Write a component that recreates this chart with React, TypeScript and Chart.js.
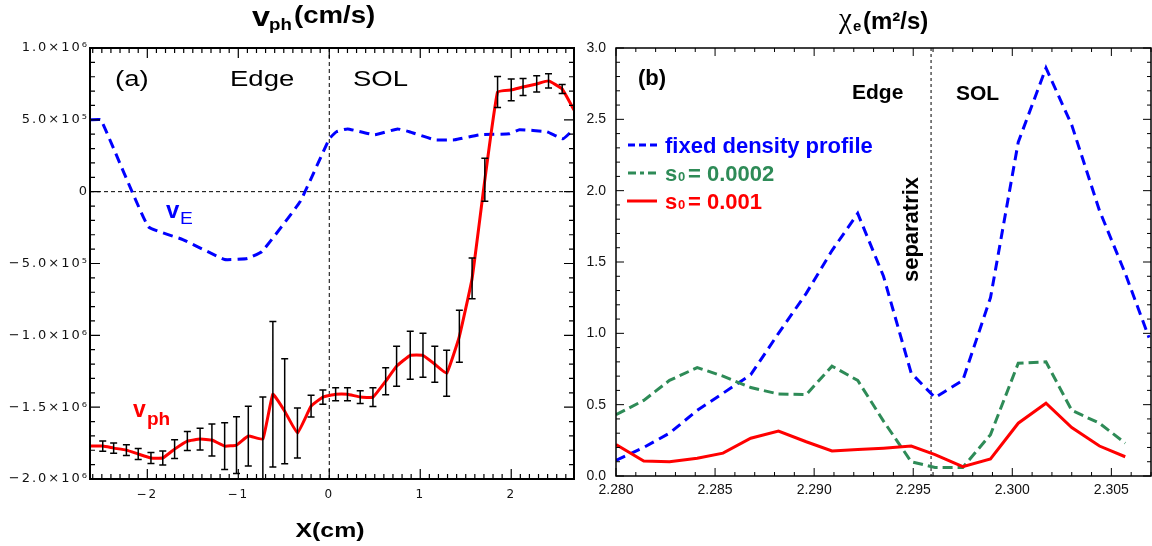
import React, { useEffect, useRef } from 'react';
import { Chart, registerables } from 'chart.js';
Chart.register(...registerables);

const FONT = '"Liberation Sans", Arial, Helvetica, sans-serif';

// ---------------- Panel (a): v_ph and v_E vs X(cm) ----------------
const vEX = [-2.63, -2.51, -1.99, -1.61, -1.15, -0.90, -0.74, -0.32, 0.0, 0.08, 0.20, 0.50, 0.75, 0.88, 1.16, 1.38, 1.65, 1.98, 2.09, 2.39, 2.57, 2.69];
const vEY = [5.0e5, 5.0e5, -2.43e5, -3.33e5, -4.72e5, -4.65e5, -4.17e5, -0.69e5, 3.68e5, 4.17e5, 4.37e5, 3.96e5, 4.37e5, 4.17e5, 3.61e5, 3.61e5, 3.96e5, 4.03e5, 4.31e5, 4.17e5, 3.68e5, 4.37e5];

const vphX = [-2.63, -2.49, -2.37, -2.23, -2.10, -1.96, -1.83, -1.70, -1.56, -1.42, -1.29, -1.15, -1.02, -0.89, -0.73, -0.62, -0.49, -0.35, -0.20, -0.07, 0.07, 0.20, 0.34, 0.48, 0.62, 0.74, 0.89, 1.03, 1.16, 1.29, 1.43, 1.57, 1.71, 1.85, 2.00, 2.13, 2.28, 2.41, 2.56, 2.69];
const vphY = [-1.771e6, -1.771e6, -1.785e6, -1.799e6, -1.826e6, -1.854e6, -1.854e6, -1.792e6, -1.736e6, -1.722e6, -1.729e6, -1.771e6, -1.764e6, -1.701e6, -1.722e6, -1.410e6, -1.528e6, -1.680e6, -1.493e6, -1.430e6, -1.410e6, -1.410e6, -1.430e6, -1.430e6, -1.319e6, -1.215e6, -1.139e6, -1.139e6, -1.201e6, -1.264e6, -1.007e6, -0.604e6, 0.083e6, 0.694e6, 0.708e6, 0.729e6, 0.750e6, 0.771e6, 0.715e6, 0.569e6];
const vphErr = [null, 3.5e4, 3.5e4, 3.8e4, 3.8e4, 3.8e4, 4.9e4, 6.6e4, 6.6e4, 7.6e4, 1.11e5, 1.63e5, 1.98e5, 2.08e5, 2.92e5, 5.07e5, 3.65e5, 1.74e5, 7.6e4, 4.9e4, 4.5e4, 4.5e4, 4.5e4, 6.6e4, 9.4e4, 1.39e5, 1.67e5, 1.53e5, 1.25e5, 1.60e5, 1.81e5, 1.42e5, 1.49e5, 1.08e5, 7.6e4, 5.9e4, 5.6e4, 4.9e4, 3.1e4, null];

const xTickValuesA = [-2, -1, 0, 1, 2];
const xTickLabelsA = ['−2', '−1', '0', '1', '2'];
const yTickValuesA = [1e6, 5e5, 0, -5e5, -1e6, -1.5e6, -2e6];
const yTickLabelsA = ['1.0×10⁶', '5.0×10⁵', '0', '−5.0×10⁵', '−1.0×10⁶', '−1.5×10⁶', '−2.0×10⁶'];

// ---------------- Panel (b): chi_e vs X(m) ----------------
const chiX = [2.2800, 2.2814, 2.2827, 2.2841, 2.2854, 2.2868, 2.2882, 2.2896, 2.2909, 2.2922, 2.2935, 2.2949, 2.2961, 2.2975, 2.2989, 2.3003, 2.3017, 2.3030, 2.3044, 2.3057, 2.3069];
const chiFixed = [0.11, 0.20, 0.30, 0.46, 0.58, 0.71, 1.00, 1.28, 1.58, 1.84, 1.40, 0.72, 0.55, 0.67, 1.25, 2.34, 2.86, 2.46, 1.86, 1.42, 0.97];
const chiS0002 = [0.43, 0.53, 0.67, 0.76, 0.70, 0.62, 0.575, 0.57, 0.77, 0.67, 0.385, 0.10, 0.06, 0.06, 0.29, 0.79, 0.80, 0.46, 0.37, 0.23];
const chiS001 = [0.22, 0.105, 0.10, 0.125, 0.16, 0.265, 0.315, 0.24, 0.175, 0.185, 0.195, 0.21, 0.15, 0.065, 0.12, 0.37, 0.51, 0.34, 0.21, 0.135];
const separatrixX = 2.2959;

const xTickValuesB = [2.280, 2.285, 2.290, 2.295, 2.300, 2.305];
const xTickLabelsB = ['2.280', '2.285', '2.290', '2.295', '2.300', '2.305'];
const yTickValuesB = [0, 0.5, 1.0, 1.5, 2.0, 2.5, 3.0];
const yTickLabelsB = ['0.0', '0.5', '1.0', '1.5', '2.0', '2.5', '3.0'];

const legendB = ['fixed density profile', '0.0002', '0.001'];

// ---------------- helpers ----------------
const pts = (xs: number[], ys: number[]) => ys.map((y, i) => ({ x: xs[i], y }));

function labelFor(values: number[], labels: string[], v: number, tol: number) {
  const i = values.findIndex((t) => Math.abs(t - v) < tol);
  return i >= 0 ? labels[i] : '';
}

function drawText(ctx: CanvasRenderingContext2D, s: string, x: number, y: number, font: string, color: string, sx = 1, align: CanvasTextAlign = 'left') {
  ctx.save();
  (ctx as any).letterSpacing = '0px';
  ctx.font = font;
  ctx.fillStyle = color;
  ctx.textAlign = align;
  ctx.textBaseline = 'alphabetic';
  ctx.translate(x, y);
  ctx.scale(sx, 1);
  ctx.fillText(s, 0, 0);
  ctx.restore();
}

type FrameOpts = { xMinor: number; xRatio: number; yMinor: number; yRatio: number; majorLen: number; minorLen: number; boxWidth: number; tickWidth: number };

function drawFrame(chart: any, o: FrameOpts) {
  const { ctx, chartArea: a, scales } = chart;
  const x = scales.x, y = scales.y;
  ctx.save();
  ctx.setLineDash([]);
  ctx.strokeStyle = '#000';
  ctx.lineWidth = o.tickWidth;
  ctx.beginPath();
  const i0 = Math.ceil(x.min / o.xMinor - 1e-6), i1 = Math.floor(x.max / o.xMinor + 1e-6);
  for (let i = i0; i <= i1; i++) {
    const len = i % o.xRatio === 0 ? o.majorLen : o.minorLen;
    const px = x.getPixelForValue(i * o.xMinor);
    ctx.moveTo(px, a.bottom); ctx.lineTo(px, a.bottom - len);
    ctx.moveTo(px, a.top); ctx.lineTo(px, a.top + len);
  }
  const j0 = Math.ceil(y.min / o.yMinor - 1e-6), j1 = Math.floor(y.max / o.yMinor + 1e-6);
  for (let j = j0; j <= j1; j++) {
    const len = j % o.yRatio === 0 ? o.majorLen : o.minorLen;
    const py = y.getPixelForValue(j * o.yMinor);
    ctx.moveTo(a.left, py); ctx.lineTo(a.left + len, py);
    ctx.moveTo(a.right, py); ctx.lineTo(a.right - len, py);
  }
  ctx.stroke();
  ctx.lineWidth = o.boxWidth;
  ctx.strokeRect(a.left, a.top, a.right - a.left, a.bottom - a.top);
  ctx.restore();
}

// ---------------- plugins ----------------
const panelAPlugin = {
  id: 'panelA',
  beforeDraw(chart: any) {
    (chart.ctx as any).letterSpacing = '2px';
  },
  beforeDatasetsDraw(chart: any) {
    const { ctx, chartArea: a, scales } = chart;
    const x0 = scales.x.getPixelForValue(0);
    const y0 = scales.y.getPixelForValue(0);
    ctx.save();
    ctx.strokeStyle = '#000';
    ctx.lineWidth = 1;
    ctx.setLineDash([4, 3]);
    ctx.beginPath();
    ctx.moveTo(a.left, y0); ctx.lineTo(a.right, y0);
    ctx.moveTo(x0, a.top); ctx.lineTo(x0, a.bottom);
    ctx.stroke();
    ctx.restore();
  },
  afterDatasetsDraw(chart: any) {
    const { ctx, chartArea: a, scales } = chart;
    ctx.save();
    ctx.beginPath();
    ctx.rect(a.left, a.top, a.right - a.left, a.bottom - a.top);
    ctx.clip();
    ctx.strokeStyle = '#000';
    ctx.lineWidth = 1.5;
    ctx.setLineDash([]);
    ctx.beginPath();
    vphErr.forEach((e, i) => {
      if (e == null) return;
      const px = scales.x.getPixelForValue(vphX[i]);
      const t = scales.y.getPixelForValue(vphY[i] + e);
      const b = scales.y.getPixelForValue(vphY[i] - e);
      ctx.moveTo(px, t); ctx.lineTo(px, b);
      ctx.moveTo(px - 3.5, t); ctx.lineTo(px + 3.5, t);
      ctx.moveTo(px - 3.5, b); ctx.lineTo(px + 3.5, b);
    });
    ctx.stroke();
    ctx.restore();
    drawFrame(chart, { xMinor: 0.1, xRatio: 10, yMinor: 1e5, yRatio: 5, majorLen: 10, minorLen: 5, boxWidth: 2, tickWidth: 1.2 });
  },
  afterDraw(chart: any) {
    const ctx = chart.ctx as CanvasRenderingContext2D;
    // title
    drawText(ctx, 'v', 252, 26, `bold 27px ${FONT}`, '#000', 1.2);
    drawText(ctx, 'ph', 269, 30, `bold 17px ${FONT}`, '#000', 1.1);
    drawText(ctx, '(cm/s)', 294, 23, `bold 23px ${FONT}`, '#000', 1.2);
    // annotations
    drawText(ctx, '(a)', 115, 86, `22px ${FONT}`, '#000', 1.25);
    drawText(ctx, 'Edge', 230, 86, `22px ${FONT}`, '#000', 1.25);
    drawText(ctx, 'SOL', 353, 86, `22px ${FONT}`, '#000', 1.25);
    drawText(ctx, 'v', 166, 218, `bold 24px ${FONT}`, '#0000ff');
    drawText(ctx, 'E', 180, 224, `16px ${FONT}`, '#0000ff', 1.2);
    drawText(ctx, 'v', 133, 417, `bold 23px ${FONT}`, '#ff0000');
    drawText(ctx, 'ph', 147, 425, `bold 19px ${FONT}`, '#ff0000');
    // axis title
    drawText(ctx, 'X(cm)', 330, 537, `bold 20px ${FONT}`, '#000', 1.24, 'center');
    (ctx as any).letterSpacing = '0px';
  },
};

const OFF = 580; // left edge of panel (b) canvas on the page
const panelBPlugin = {
  id: 'panelB',
  beforeDatasetsDraw(chart: any) {
    const { ctx, chartArea: a, scales } = chart;
    const sx = scales.x.getPixelForValue(separatrixX);
    ctx.save();
    ctx.strokeStyle = '#000';
    ctx.lineWidth = 1;
    ctx.setLineDash([3, 3]);
    ctx.beginPath();
    ctx.moveTo(sx, a.top); ctx.lineTo(sx, a.bottom);
    ctx.stroke();
    ctx.restore();
  },
  afterDatasetsDraw(chart: any) {
    drawFrame(chart, { xMinor: 0.001, xRatio: 5, yMinor: 0.1, yRatio: 5, majorLen: 8, minorLen: 4, boxWidth: 1.5, tickWidth: 1 });
  },
  afterDraw(chart: any) {
    const ctx = chart.ctx as CanvasRenderingContext2D;
    // title
    drawText(ctx, 'χ', 839 - OFF, 28, `29px "Liberation Serif", serif`, '#000');
    drawText(ctx, 'e', 853 - OFF, 31, `bold 15px ${FONT}`, '#000');
    drawText(ctx, '(m²/s)', 863 - OFF, 29, `bold 24px ${FONT}`, '#000');
    // annotations
    drawText(ctx, '(b)', 638 - OFF, 85, `bold 22px ${FONT}`, '#000');
    drawText(ctx, 'Edge', 852 - OFF, 99, `bold 21px ${FONT}`, '#000');
    drawText(ctx, 'SOL', 956 - OFF, 100, `bold 21px ${FONT}`, '#000');
    ctx.save();
    ctx.translate(918 - OFF, 229.5);
    ctx.rotate(-Math.PI / 2);
    drawText(ctx, 'separatrix', 0, 0, `bold 22px ${FONT}`, '#000', 1, 'center');
    ctx.restore();
    // legend
    const lx0 = 628 - OFF, lx1 = 660 - OFF, tx = 665 - OFF;
    ctx.save();
    ctx.lineWidth = 3;
    ctx.strokeStyle = '#0000ff';
    ctx.setLineDash([7, 4]);
    ctx.beginPath(); ctx.moveTo(lx0, 145); ctx.lineTo(lx1, 145); ctx.stroke();
    ctx.strokeStyle = '#2e8b57';
    ctx.setLineDash([8, 4, 4, 4]);
    ctx.beginPath(); ctx.moveTo(lx0, 173); ctx.lineTo(lx1, 173); ctx.stroke();
    ctx.strokeStyle = '#ff0000';
    ctx.setLineDash([]);
    ctx.beginPath(); ctx.moveTo(lx0 - 1, 201); ctx.lineTo(lx1 - 3, 201); ctx.stroke();
    ctx.restore();
    drawText(ctx, legendB[0], tx, 153, `bold 22px ${FONT}`, '#0000ff');
    drawText(ctx, 's', tx, 181, `bold 22px ${FONT}`, '#2e8b57');
    drawText(ctx, '0', tx + 13, 181, `bold 13px ${FONT}`, '#2e8b57');
    drawText(ctx, '= ' + legendB[1], tx + 23, 181, `bold 22px ${FONT}`, '#2e8b57');
    drawText(ctx, 's', tx, 209, `bold 22px ${FONT}`, '#ff0000');
    drawText(ctx, '0', tx + 13, 209, `bold 13px ${FONT}`, '#ff0000');
    drawText(ctx, '= ' + legendB[2], tx + 23, 209, `bold 22px ${FONT}`, '#ff0000');
  },
};

// ---------------- components ----------------
function PanelA() {
  const ref = useRef<HTMLCanvasElement>(null);
  useEffect(() => {
    if (!ref.current) return;
    const chart = new Chart(ref.current, {
      type: 'line',
      data: {
        datasets: [
          { data: pts(vphX, vphY), borderColor: '#ff0000', borderWidth: 3, pointRadius: 0, tension: 0.1, fill: false },
          { data: pts(vEX, vEY), borderColor: '#0000ff', borderWidth: 3, borderDash: [10, 6], pointRadius: 0, tension: 0.1, fill: false },
        ],
      },
      options: {
        responsive: false,
        animation: false,
        devicePixelRatio: 1,
        layout: { padding: { left: 0, right: 6, top: 48, bottom: 0 } },
        plugins: { legend: { display: false }, tooltip: { enabled: false }, title: { display: false } },
        scales: {
          x: {
            type: 'linear', min: -2.63, max: 2.69,
            grid: { display: false, drawTicks: false }, border: { display: false },
            afterBuildTicks: (s: any) => { s.ticks = xTickValuesA.map((v) => ({ value: v })); },
            afterFit: (s: any) => { s.height = 67; },
            ticks: { autoSkip: false, maxRotation: 0, padding: 9, color: '#111', font: { family: '"DejaVu Sans"', size: 12 },
              callback: (v: any) => labelFor(xTickValuesA, xTickLabelsA, Number(v), 1e-6) },
          },
          y: {
            type: 'linear', min: -2e6, max: 1e6,
            grid: { display: false, drawTicks: false }, border: { display: false },
            afterBuildTicks: (s: any) => { s.ticks = yTickValuesA.map((v) => ({ value: v })); },
            afterFit: (s: any) => { s.width = 90; },
            ticks: { autoSkip: false, padding: 1, color: '#111', font: { family: '"DejaVu Sans"', size: 13 },
              callback: (v: any) => labelFor(yTickValuesA, yTickLabelsA, Number(v), 1) },
          },
        },
      } as any,
      plugins: [panelAPlugin as any],
    });
    return () => chart.destroy();
  }, []);
  return <canvas ref={ref} width={580} height={546} style={{ position: 'absolute', left: 0, top: 0, width: 580, height: 546 }} />;
}

function PanelB() {
  const ref = useRef<HTMLCanvasElement>(null);
  useEffect(() => {
    if (!ref.current) return;
    const chart = new Chart(ref.current, {
      type: 'line',
      data: {
        datasets: [
          { data: pts(chiX, chiS001), borderColor: '#ff0000', borderWidth: 3, pointRadius: 0, tension: 0, fill: false },
          { data: pts(chiX, chiS0002), borderColor: '#2e8b57', borderWidth: 3, borderDash: [10, 5], pointRadius: 0, tension: 0, fill: false },
          { data: pts(chiX, chiFixed), borderColor: '#0000ff', borderWidth: 3, borderDash: [10, 6], pointRadius: 0, tension: 0, fill: false },
        ],
      },
      options: {
        responsive: false,
        animation: false,
        devicePixelRatio: 1,
        layout: { padding: { left: 0, right: 1, top: 48, bottom: 0 } },
        plugins: { legend: { display: false }, tooltip: { enabled: false }, title: { display: false } },
        scales: {
          x: {
            type: 'linear', min: 2.280, max: 2.307,
            grid: { display: false, drawTicks: false }, border: { display: false },
            afterBuildTicks: (s: any) => { s.ticks = xTickValuesB.map((v) => ({ value: v })); },
            afterFit: (s: any) => { s.height = 70; },
            ticks: { autoSkip: false, maxRotation: 0, padding: 6, color: '#111', font: { family: '"Liberation Sans"', size: 14 },
              callback: (v: any) => labelFor(xTickValuesB, xTickLabelsB, Number(v), 1e-6) },
          },
          y: {
            type: 'linear', min: 0, max: 3,
            grid: { display: false, drawTicks: false }, border: { display: false },
            afterBuildTicks: (s: any) => { s.ticks = yTickValuesB.map((v) => ({ value: v })); },
            afterFit: (s: any) => { s.width = 36; },
            ticks: { autoSkip: false, padding: 10, color: '#111', font: { family: '"Liberation Sans"', size: 14 },
              callback: (v: any) => labelFor(yTickValuesB, yTickLabelsB, Number(v), 1e-6) },
          },
        },
      } as any,
      plugins: [panelBPlugin as any],
    });
    return () => chart.destroy();
  }, []);
  return <canvas ref={ref} width={572} height={546} style={{ position: 'absolute', left: OFF, top: 0, width: 572, height: 546 }} />;
}

export default function App() {
  return (
    <div style={{ position: 'absolute', left: 0, top: 0, width: 1152, height: 546, background: '#fff' }}>
      <PanelA />
      <PanelB />
    </div>
  );
}
